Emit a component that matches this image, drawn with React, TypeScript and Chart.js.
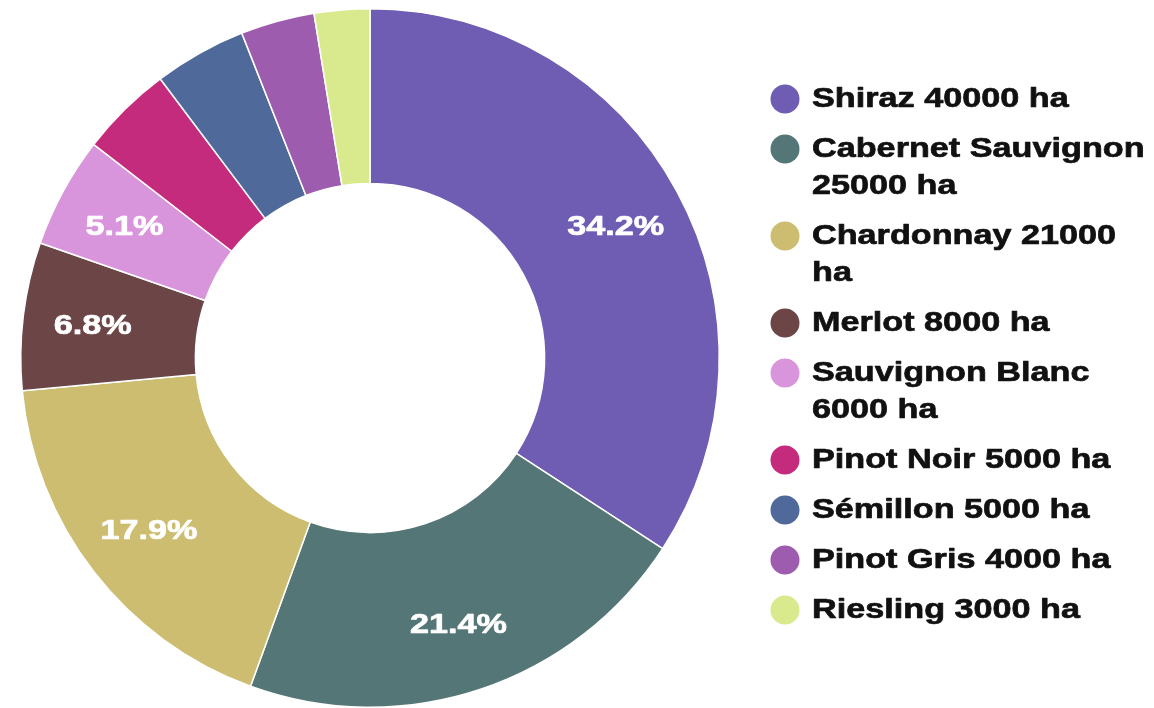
import React, { useEffect, useRef } from "react";
import { Chart, registerables } from "chart.js";

Chart.register(...registerables);

const varieties = [
  "Shiraz",
  "Cabernet Sauvignon",
  "Chardonnay",
  "Merlot",
  "Sauvignon Blanc",
  "Pinot Noir",
  "Sémillon",
  "Pinot Gris",
  "Riesling",
];
const hectares = [40000, 25000, 21000, 8000, 6000, 5000, 5000, 4000, 3000];
const colors = [
  "#6f5db4",
  "#557676",
  "#cdbd70",
  "#6c4547",
  "#d995dc",
  "#c52b7c",
  "#4f6a9a",
  "#9e5cae",
  "#d9e98d",
];

const FONT = "bold 28.5px 'Liberation Sans', Arial, sans-serif";
const XSCALE = 1.2;

function drawStretched(ctx: CanvasRenderingContext2D, text: string, x: number, y: number, align: "left" | "center") {
  ctx.save();
  ctx.translate(x, y);
  ctx.scale(XSCALE, 1);
  ctx.textAlign = align;
  ctx.strokeStyle = ctx.fillStyle as string;
  ctx.lineWidth = 0.7;
  ctx.lineJoin = "round";
  ctx.fillText(text, 0, 0);
  ctx.strokeText(text, 0, 0);
  ctx.restore();
}

const sliceLabels = {
  id: "sliceLabels",
  afterDatasetsDraw(chart: any) {
    const ctx = chart.ctx as CanvasRenderingContext2D;
    const meta = chart.getDatasetMeta(0);
    const data = chart.data.datasets[0].data as number[];
    const total = data.reduce((a, b) => a + b, 0);
    ctx.save();
    ctx.font = FONT;
    ctx.fillStyle = "#ffffff";
    ctx.textBaseline = "middle";
    meta.data.forEach((arc: any, i: number) => {
      const pct = (data[i] / total) * 100;
      if (pct < 5) return;
      const p = arc.getProps(["x", "y", "startAngle", "endAngle", "innerRadius", "outerRadius"], true);
      const mid = (p.startAngle + p.endAngle) / 2;
      const r = p.innerRadius + 0.6 * (p.outerRadius - p.innerRadius);
      drawStretched(ctx, pct.toFixed(1) + "%", p.x + Math.cos(mid) * r, p.y + Math.sin(mid) * r + 2, "center");
    });
    ctx.restore();
  },
};

const sideLegend = {
  id: "sideLegend",
  afterDraw(chart: any) {
    const ctx = chart.ctx as CanvasRenderingContext2D;
    const labels = chart.data.labels as string[];
    const data = chart.data.datasets[0].data as number[];
    const bg = chart.data.datasets[0].backgroundColor as string[];
    const markerX = 785;
    const textX = 812;
    const maxW = chart.width - textX;
    const lineH = 37;
    const itemGap = 50;
    let y = 99;
    ctx.save();
    ctx.font = FONT;
    ctx.textBaseline = "middle";
    labels.forEach((lab, i) => {
      const words = `${lab} ${data[i]} ha`.split(" ");
      const lines: string[] = [];
      let cur = "";
      words.forEach((w) => {
        const test = cur ? cur + " " + w : w;
        if (cur && ctx.measureText(test).width * XSCALE > maxW) {
          lines.push(cur);
          cur = w;
        } else {
          cur = test;
        }
      });
      if (cur) lines.push(cur);
      ctx.fillStyle = bg[i];
      ctx.beginPath();
      ctx.arc(markerX, y, 14.5, 0, Math.PI * 2);
      ctx.fill();
      ctx.fillStyle = "#111111";
      lines.forEach((ln, k) => {
        drawStretched(ctx, ln, textX, y + k * lineH, "left");
      });
      y += (lines.length - 1) * lineH + itemGap;
    });
    ctx.restore();
  },
};

export default function App() {
  const ref = useRef<HTMLCanvasElement | null>(null);
  useEffect(() => {
    document.body.style.margin = "0";
    if (!ref.current) return;
    const chart = new Chart(ref.current, {
      type: "doughnut",
      data: {
        labels: varieties,
        datasets: [
          {
            data: hectares,
            backgroundColor: colors,
            borderColor: "#ffffff",
            borderWidth: 1.5,
          },
        ],
      },
      options: {
        responsive: false,
        animation: false,
        cutout: "50%",
        layout: { padding: { left: 20, right: 434, top: 8, bottom: 0 } },
        plugins: {
          legend: { display: false },
          tooltip: { enabled: false },
        },
      },
      plugins: [sliceLabels, sideLegend],
    });
    return () => chart.destroy();
  }, []);
  return (
    <div style={{ width: 1154, height: 708, background: "#ffffff" }}>
      <canvas ref={ref} width={1154} height={708} style={{ display: "block" }} />
    </div>
  );
}
